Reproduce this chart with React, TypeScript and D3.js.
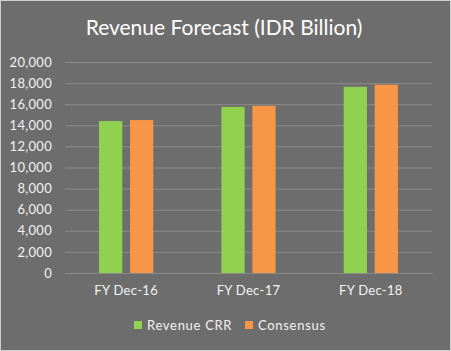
import React, { useEffect, useRef } from "react";
import * as d3 from "d3";

// values (IDR billion)
const categories = ["FY Dec-16", "FY Dec-17", "FY Dec-18"];
const revenueCRR = [14400, 15750, 17650];
const consensus = [14500, 15850, 17850];
const seriesNames = ["Revenue CRR", "Consensus"];
const seriesColors = ["#92d050", "#f79646"];
const yTicks = [0, 2000, 4000, 6000, 8000, 10000, 12000, 14000, 16000, 18000, 20000];

const App: React.FC = () => {
  const svgRef = useRef<SVGSVGElement | null>(null);

  useEffect(() => {
    const width = 451;
    const height = 351;
    const marginTop = 62;
    const marginBottom = 78;
    const marginLeft = 65;
    const marginRight = 19;
    const font = "Lato, 'Open Sans', sans-serif";

    const svg = d3.select(svgRef.current);
    svg.selectAll("*").remove();
    svg.attr("width", width).attr("height", height).style("display", "block");

    svg
      .append("rect")
      .attr("x", 0.5)
      .attr("y", 0.5)
      .attr("width", width - 1)
      .attr("height", height - 1)
      .attr("fill", "#6d6d6d")
      .attr("stroke", "#d0d0d0");

    svg
      .append("text")
      .attr("x", 224)
      .attr("y", 35)
      .attr("text-anchor", "middle")
      .attr("fill", "#ffffff")
      .style("font", `21px ${font}`)
      .text("Revenue Forecast (IDR Billion)");

    const x = d3
      .scaleBand()
      .domain(categories)
      .range([marginLeft, width - marginRight]);

    const inner = d3
      .scaleBand()
      .domain(seriesNames)
      .range([0, x.bandwidth()])
      .paddingInner(0.25)
      .paddingOuter(1.1);

    const y = d3
      .scaleLinear()
      .domain([0, 20000])
      .range([height - marginBottom, marginTop]);

    // grid
    const gy = svg
      .append("g")
      .attr("transform", `translate(${marginLeft},0)`)
      .call(
        d3
          .axisLeft(y)
          .tickValues(yTicks)
          .tickFormat(d3.format(","))
          .tickSize(-(width - marginLeft - marginRight))
          .tickPadding(13),
      );
    gy.select(".domain").remove();
    gy.selectAll(".tick line").attr("stroke", "#8a8a8a").attr("stroke-width", 1);
    gy.selectAll(".tick text")
      .attr("fill", "#f2f2f2")
      .style("font", `13px ${font}`)
      .style("letter-spacing", "0.3px");

    const data = [revenueCRR, consensus];

    const groups = svg
      .selectAll(".cat")
      .data(categories)
      .enter()
      .append("g")
      .attr("class", "cat")
      .attr("transform", (d) => `translate(${x(d)},0)`);

    groups
      .selectAll("rect")
      .data((_, i) => seriesNames.map((s, k) => ({ s, v: data[k][i], k })))
      .enter()
      .append("rect")
      .attr("x", (d) => inner(d.s) as number)
      .attr("y", (d) => y(d.v))
      .attr("width", inner.bandwidth())
      .attr("height", (d) => y(0) - y(d.v))
      .attr("fill", (d) => seriesColors[d.k]);

    // x axis
    const gx = svg
      .append("g")
      .attr("transform", `translate(0,${height - marginBottom})`)
      .call(d3.axisBottom(x).tickSize(0).tickPadding(13));
    gx.select(".domain").attr("stroke", "#8a8a8a");
    gx.selectAll(".tick text")
      .attr("fill", "#f2f2f2")
      .style("font", `13px ${font}`)
      .style("letter-spacing", "0.3px");

    // legend
    const legendX = [134, 245];
    const legend = svg
      .selectAll(".legend")
      .data(seriesNames)
      .enter()
      .append("g")
      .attr("class", "legend")
      .attr("transform", (_, i) => `translate(${legendX[i]},321)`);
    legend
      .append("rect")
      .attr("width", 8)
      .attr("height", 8)
      .attr("fill", (_, i) => seriesColors[i]);
    legend
      .append("text")
      .attr("x", 13)
      .attr("y", 9)
      .attr("fill", "#f2f2f2")
      .style("font", `13px ${font}`)
      .style("letter-spacing", "0.7px")
      .text((d) => d);
  }, []);

  return <svg ref={svgRef} style={{ position: "absolute", left: 0, top: 0 }}></svg>;
};

export default App;
